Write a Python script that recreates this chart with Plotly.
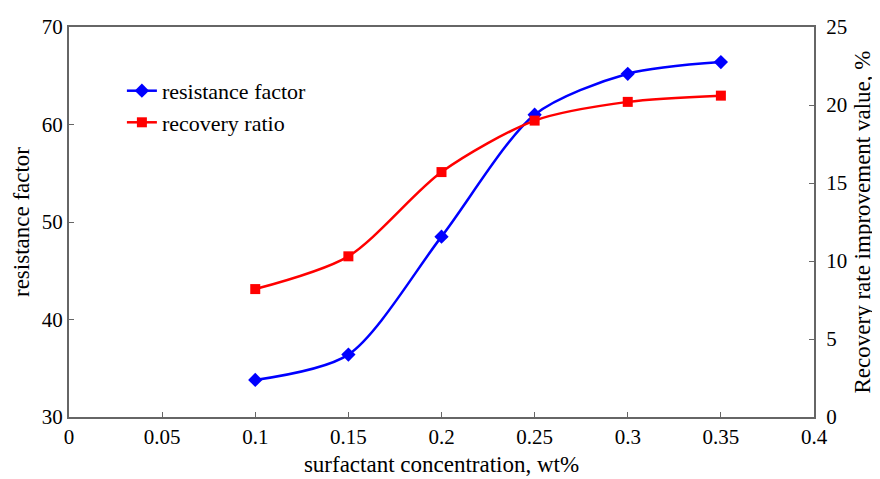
import plotly.graph_objects as go

concentration = [0.10, 0.15, 0.20, 0.25, 0.30, 0.35]
resistance_factor = [33.8, 36.4, 48.5, 61.0, 65.2, 66.4]
recovery_ratio = [8.2, 10.3, 15.7, 19.0, 20.2, 20.6]

x_ticks = [0, 0.05, 0.1, 0.15, 0.2, 0.25, 0.3, 0.35, 0.4]
x_tick_text = ["0", "0.05", "0.1", "0.15", "0.2", "0.25", "0.3", "0.35", "0.4"]

font_family = "Liberation Serif"
axis_color = "#666666"

fig = go.Figure()
fig.add_trace(go.Scatter(
    x=concentration, y=resistance_factor, name="resistance factor",
    mode="lines+markers", line=dict(color="#0000ff", width=2.5, shape="spline", smoothing=0.8),
    marker=dict(symbol="diamond", size=11, color="#0000ff"), yaxis="y"))
fig.add_trace(go.Scatter(
    x=concentration, y=recovery_ratio, name="recovery ratio",
    mode="lines+markers", line=dict(color="#ff0000", width=2.5, shape="spline", smoothing=0.8),
    marker=dict(symbol="square", size=10, color="#ff0000"), yaxis="y2"))

fig.update_layout(
    width=872, height=471,
    margin=dict(l=61, r=66, t=19, b=62),
    paper_bgcolor="white", plot_bgcolor="white",
    font=dict(family=font_family, size=21, color="black"),
    showlegend=True,
    legend=dict(x=0.071, y=0.89, xanchor="left", yanchor="top",
                bgcolor="rgba(0,0,0,0)", font=dict(size=22), tracegroupgap=0),
    xaxis=dict(range=[0, 0.4], tickvals=x_ticks, ticktext=x_tick_text,
               showgrid=False, zeroline=False, showline=True, linecolor=axis_color,
               linewidth=2, mirror=True, ticks="inside", ticklen=5, tickcolor=axis_color,
               automargin=False,
               title=dict(text="surfactant concentration, wt%", standoff=8,
                          font=dict(size=23))),
    yaxis=dict(range=[30, 70], dtick=10, showgrid=False, zeroline=False,
               showline=True, linecolor=axis_color, linewidth=2,
               ticks="inside", ticklen=5, tickcolor=axis_color, automargin=False,
               title=dict(text="resistance factor", standoff=6, font=dict(size=23))),
    yaxis2=dict(range=[0, 25], dtick=5, overlaying="y", side="right",
                showgrid=False, zeroline=False, showline=True, linecolor=axis_color,
                linewidth=2, ticks="inside", ticklen=5, tickcolor=axis_color,
                automargin=False, ticklabelstandoff=6,
                title=dict(text="Recovery rate improvement value, %", standoff=8,
                           font=dict(size=23))),
)

fig.write_html("out.html")
